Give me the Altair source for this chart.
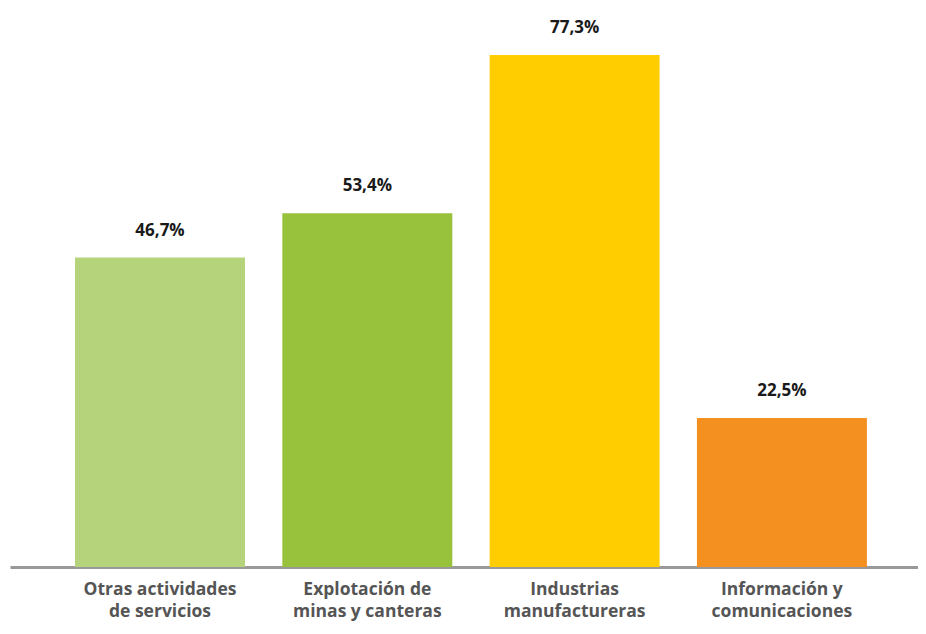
import altair as alt
import pandas as pd

categories = ["Otras actividades|de servicios", "Explotación de|minas y canteras",
              "Industrias|manufactureras", "Información y|comunicaciones"]
values = [46.7, 53.4, 77.3, 22.5]
labels = ["46,7%", "53,4%", "77,3%", "22,5%"]
colors = ["#B5D37B", "#98C23C", "#FFCD00", "#F3901F"]

df = pd.DataFrame({"cat": categories, "val": values, "lab": labels, "col": colors})

x = alt.X("cat:N", sort=categories, title=None,
          scale=alt.Scale(paddingInner=0.18, paddingOuter=0.28, align=0.56),
          axis=alt.Axis(labelAngle=0, ticks=False, domainColor="#999999", domainWidth=3,
                        labelExpr="split(datum.label, '|')", labelFont="Open Sans",
                        labelFontSize=17.5, labelFontWeight="bold", labelColor="#555555",
                        labelPadding=13, labelLineHeight=22, labelLimit=300))
y = alt.Y("val:Q", scale=alt.Scale(domain=[0, 80], nice=False), axis=None, title=None)

bars = alt.Chart(df).mark_bar().encode(x=x, y=y, color=alt.Color("col:N", scale=None))
text = alt.Chart(df).mark_text(dy=-27, font="Open Sans", fontSize=17, fontWeight="bold",
                               color="#1a1a1a").encode(x=x, y=y, text="lab:N")

chart = (bars + text).properties(
    width=908, height=530,
    autosize=alt.AutoSizeParams(type="none"),
    padding={"left": 2, "top": 29, "right": 0, "bottom": 59},
).configure_view(stroke=None)

chart.save("out.html", embed_options={"renderer": "svg", "actions": False})
